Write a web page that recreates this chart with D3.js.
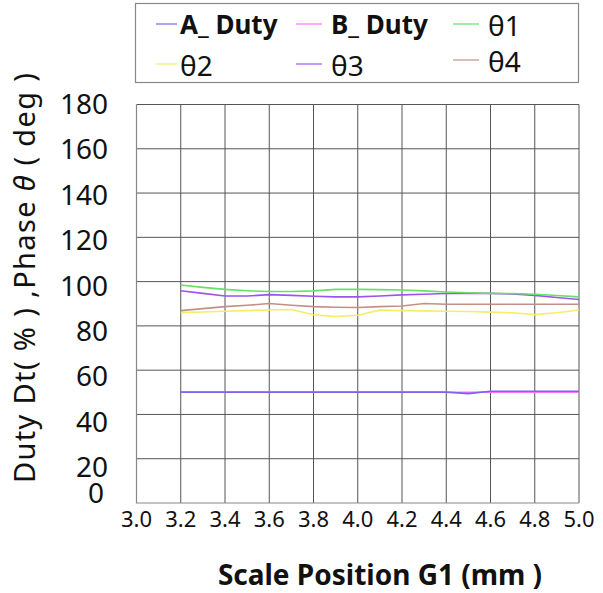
<!DOCTYPE html>
<html>
<head>
<meta charset="utf-8">
<script src="https://cdn.jsdelivr.net/npm/d3@7"></script>
<style>
  body { margin: 0; background: #fff; }
  text { font-family: "Noto Sans", "Open Sans", sans-serif; fill: #111; }
</style>
</head>
<body>
<div id="chart"></div>
<script>
// scale position (mm), one reading every 0.1 mm
const positions = [3.2, 3.3, 3.4, 3.5, 3.6, 3.7, 3.8, 3.9, 4.0, 4.1, 4.2, 4.3, 4.4, 4.5, 4.6, 4.7, 4.8, 4.9, 5.0];

const aDuty = [50.1, 50.1, 50.1, 50.1, 50.1, 50.1, 50.1, 50.1, 50.1, 50.1, 50.1, 50.1, 50.1, 49.4, 50.5, 50.5, 50.5, 50.5, 50.5];
const bDuty = [50.0, 50.0, 50.0, 50.0, 50.0, 50.0, 50.0, 50.0, 50.0, 50.0, 50.0, 50.0, 50.0, 50.0, 50.1, 50.1, 50.1, 50.1, 50.1];
const theta1 = [98.5, 97.4, 96.5, 95.9, 95.5, 95.5, 95.8, 96.5, 96.5, 96.4, 96.2, 95.8, 95.3, 95.0, 94.7, 94.6, 94.3, 93.7, 93.1];
const theta2 = [86.0, 86.3, 86.6, 86.9, 87.2, 87.4, 85.0, 84.2, 84.8, 87.1, 86.9, 86.8, 86.6, 86.5, 86.2, 85.9, 85.1, 85.9, 87.2];
const theta3 = [95.9, 94.7, 93.5, 93.5, 94.1, 93.8, 93.4, 93.1, 93.1, 93.5, 94.0, 94.3, 94.6, 94.7, 94.7, 94.4, 93.8, 92.8, 91.9];
const theta4 = [86.9, 87.8, 88.7, 89.3, 90.1, 89.3, 88.7, 88.4, 88.3, 88.7, 89.0, 90.1, 89.8, 89.8, 89.8, 89.8, 89.8, 89.8, 89.8];

const seriesNames = ['A_ Duty', 'B_ Duty', 'θ1', 'θ2', 'θ3', 'θ4'];
const seriesColors = ['#7f62f2', '#ff72ff', '#66e066', '#f2ee6a', '#a052f0', '#c29088'];

const xTicks = [3.0, 3.2, 3.4, 3.6, 3.8, 4.0, 4.2, 4.4, 4.6, 4.8, 5.0];
const yTicks = [0, 20, 40, 60, 80, 100, 120, 140, 160, 180];

const W = 603, H = 593;
const svg = d3.select('#chart').append('svg').attr('width', W).attr('height', H);

const x = d3.scaleLinear().domain([3.0, 5.0]).range([136.5, 579]);
const y = d3.scaleLinear().domain([0, 180]).range([503, 104.5]);
// tick labels sit a little below their gridlines in the original
const yLab = d3.scaleLinear().domain([20, 180]).range([467, 104]);

// grid
svg.append('g').selectAll('line.h')
  .data(yTicks.filter(d => d > 0))
  .enter().append('line')
  .attr('x1', x(3.0)).attr('x2', x(5.0))
  .attr('y1', d => y(d)).attr('y2', d => y(d))
  .attr('stroke', '#555').attr('stroke-width', 1);

svg.append('g').selectAll('line.v')
  .data(xTicks.filter(d => d > 3.0))
  .enter().append('line')
  .attr('x1', d => x(d)).attr('x2', d => x(d))
  .attr('y1', y(180)).attr('y2', y(0))
  .attr('stroke', '#555').attr('stroke-width', 1);

// axis frame (left + bottom)
svg.append('path')
  .attr('d', `M${x(3.0)},${y(180)}V${y(0)}H${x(5.0)}`)
  .attr('fill', 'none').attr('stroke', '#888').attr('stroke-width', 1.2);

// tick labels
svg.append('g').selectAll('text')
  .data(yTicks)
  .enter().append('text')
  .attr('x', d => d === 0 ? 104 : 108)
  .attr('y', d => d === 0 ? y(0) : yLab(d) + 10)
  .attr('text-anchor', 'end')
  .style('font-size', '28px')
  .text(d => d);

svg.append('g').selectAll('text')
  .data(xTicks)
  .enter().append('text')
  .attr('x', d => x(d))
  .attr('y', 527)
  .attr('text-anchor', 'middle')
  .style('font-size', '22px')
  .text(d => d.toFixed(1));

// axis titles
svg.append('text')
  .attr('x', 380).attr('y', 585)
  .attr('text-anchor', 'middle')
  .style('font-size', '28px').style('font-weight', 'bold')
  .text('Scale Position G1 (mm )');

const yt = svg.append('text')
  .attr('transform', 'translate(35,278) rotate(-90)')
  .attr('text-anchor', 'middle')
  .attr('textLength', 410).attr('lengthAdjust', 'spacing')
  .style('font-size', '29px');
yt.append('tspan').text('Duty Dt( % ) ,Phase ');
yt.append('tspan').style('font-style', 'italic').text('θ');
yt.append('tspan').text(' ( deg )');

// lines
const allSeries = [aDuty, bDuty, theta1, theta2, theta3, theta4];
const line = d3.line().x((d, i) => x(positions[i])).y(d => y(d));
const drawOrder = [1, 0, 3, 5, 4, 2];
svg.append('g').selectAll('path')
  .data(drawOrder)
  .enter().append('path')
  .attr('d', k => line(allSeries[k]))
  .attr('fill', 'none')
  .attr('stroke', k => seriesColors[k])
  .attr('stroke-width', 1.6);

// legend
const lg = svg.append('g');
lg.append('rect')
  .attr('x', 135.5).attr('y', 3.5).attr('width', 443).attr('height', 79)
  .attr('fill', '#fff').attr('stroke', '#888').attr('stroke-width', 1.2);

const colX = [156, 296, 453];
const rowBase = [34, 74];
seriesNames.forEach((name, i) => {
  const c = i % 3, r = Math.floor(i / 3);
  const lx = colX[c];
  const ly = rowBase[r] - (r === 1 && c === 2 ? 4 : 0);
  const lineLen = c === 0 ? 21 : 26;
  lg.append('line')
    .attr('x1', lx).attr('x2', lx + lineLen)
    .attr('y1', ly - 10).attr('y2', ly - 10)
    .attr('stroke', seriesColors[i]).attr('stroke-width', 1.2);
  const bold = i < 2;
  lg.append('text')
    .attr('x', lx + lineLen + (c === 0 ? 3 : 9))
    .attr('y', ly + (bold ? 0 : 2))
    .style('font-size', bold ? '26px' : '28px')
    .style('font-weight', bold ? 'bold' : 'normal')
    .text(name);
});
</script>
</body>
</html>
